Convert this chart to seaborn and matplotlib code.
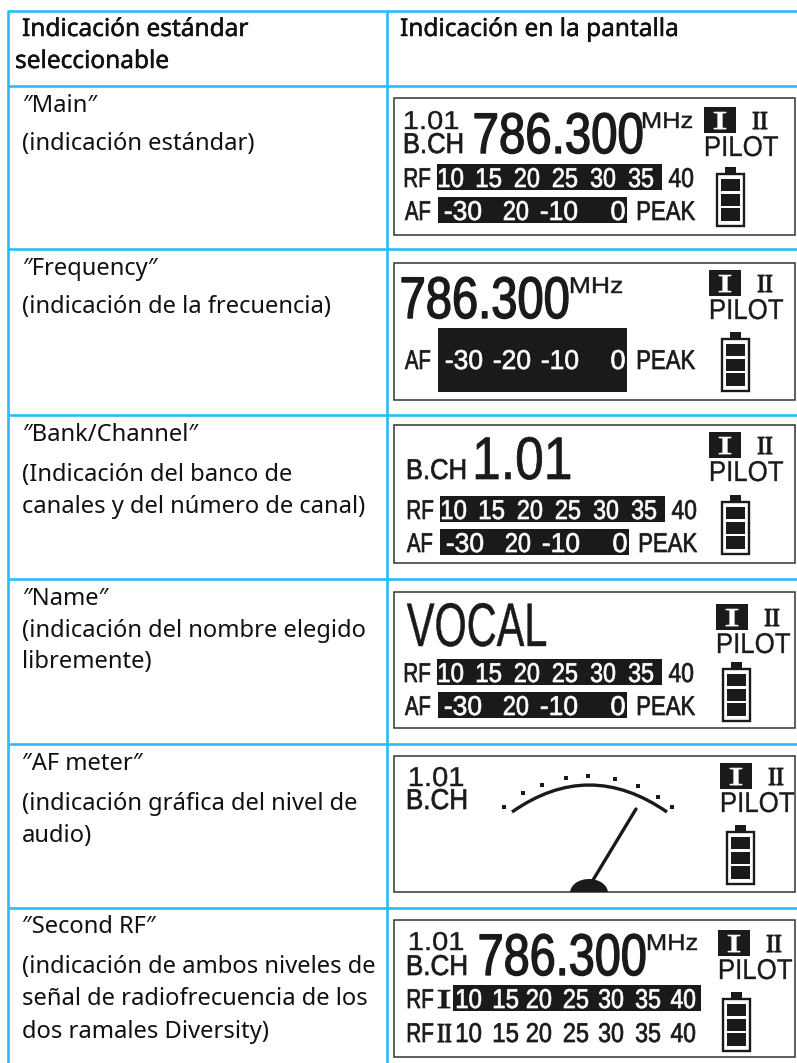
import numpy as np
import matplotlib
matplotlib.use("Agg")
import matplotlib.pyplot as plt
import matplotlib.patheffects as pe
import seaborn as sns
from matplotlib.patches import Rectangle, PathPatch, Ellipse
from matplotlib.path import Path
from matplotlib.transforms import Affine2D

# Textos de la tabla
header_left = ["Indicación estándar", "seleccionable"]
header_right = "Indicación en la pantalla"
row_titles = ["Main", "Frequency", "Bank/Channel", "Name", "AF meter", "Second RF"]
row_desc = [
    ["(indicación estándar)"],
    ["(indicación de la frecuencia)"],
    ["(Indicación del banco de", "canales y del número de canal)"],
    ["(indicación del nombre elegido", "libremente)"],
    ["(indicación gráfica del nivel de", "audio)"],
    ["(indicación de ambos niveles de", "señal de radiofrecuencia de los", "dos ramales Diversity)"],
]

# Valores de las pantallas
frequency = "786.300"
freq_unit = "MHz"
channel = "1.01"
bank_label = "B.CH"
name_value = "VOCAL"
rf_scale = ["10", "15", "20", "25", "30", "35", "40"]
af_scale = ["-30", "20", "-10", "0"]
af_scale_freq = ["-30", "-20", "-10", "0"]
meter_tick_deg = [-40.6, -30, -21, -10, 0, 12, 23, 33, 40.6]

BLUE = "#29bdf8"
INK = "#1a1a1c"
TEXT = "#111111"
LCD = ["Liberation Sans", "DejaVu Sans"]
SERIF = ["Liberation Serif"]
BODY = ["Noto Sans", "DejaVu Sans"]
BODY_SIZE = 17.1

sns.set_theme(style="white")
plt.rcParams["font.family"] = BODY

fig = plt.figure(figsize=(7.97, 10.63), dpi=100)
ax = fig.add_axes([0, 0, 1, 1])


class FitX(pe.AbstractPathEffect):
    # estrecha el texto al ancho de la pantalla LCD (no hay fuente condensada)
    def __init__(self, x0, x1, grow=0.0):
        super().__init__()
        self.x0 = x0
        self.x1 = x1
        self.grow = grow

    def draw_path(self, renderer, gc, tpath, affine, rgbFace=None):
        m = affine.get_matrix().copy()
        ext = tpath.get_extents()
        a = (self.x1 - self.x0) / ext.width
        m[0, 0] = a
        m[0, 2] = self.x0 - a * ext.x0
        gc0 = renderer.new_gc()
        gc0.copy_properties(gc)
        gc0.set_linewidth(self.grow)
        gc0.set_foreground(rgbFace)
        renderer.draw_path(gc0, tpath, Affine2D(m), rgbFace)
        gc0.restore()


def lcd(s, x0, x1, base, h, color=INK, grow=0.5, family=None):
    ax.text((x0 + x1) / 2, base, s, family=family or LCD, fontsize=h * 1.03, color=color,
            ha="center", va="baseline", zorder=5, path_effects=[FitX(x0, x1, grow)])


def small(s, cx, base, color=INK):
    w = {1: 13, 2: 24, 3: 36}[len(s)]
    lcd(s, cx - w / 2, cx + w / 2, base, 19, color=color)


def panel_box(top, bottom):
    box = Rectangle((394.5, top), 401, bottom - top, fc="white", ec="#333333", lw=1.1, zorder=1)
    ax.add_patch(box)
    return box


def selector(x, y):
    # recuadro I, simbolo II y PILOT
    ax.add_patch(Rectangle((x, y), 32, 26, fc=INK, ec="none", zorder=2))
    lcd("I", x + 10, x + 22, y + 22, 18, color="white", grow=0.6, family=SERIF)
    lcd("II", x + 49, x + 63, y + 22, 18, grow=0.8, family=SERIF)
    lcd("PILOT", x + 2, x + 74, y + 49, 20, grow=0.25)


def battery(x, y):
    ax.add_patch(Rectangle((x + 9, y), 11, 7, fc=INK, ec="none", zorder=3))
    ax.add_patch(Rectangle((x + 1, y + 7), 27, 52, fc="white", ec=INK, lw=1.7, zorder=3))
    for i in range(3):
        ax.add_patch(Rectangle((x + 5, y + 12 + i * 14.7), 19, 12.3, fc=INK, ec="none", zorder=4))


def rf_row(x, base):
    # x = inicio de la barra
    lcd("RF", x - 32, x - 7, base, 19)
    ax.add_patch(Rectangle((x, base - 23), 225, 26, fc=INK, ec="none", zorder=2))
    for i, val in enumerate(rf_scale):
        small(val, x + 14 + 38 * i + (2 if i == 6 else 0), base, color="white" if i < 6 else INK)


def af_row(x, base, scale=af_scale, offsets=(25, 78, 121, 180), bar_top=None, bar_bottom=None):
    lcd("AF", x - 33, x - 8, base, 19)
    top = base - 23 if bar_top is None else bar_top
    bottom = base + 3 if bar_bottom is None else bar_bottom
    ax.add_patch(Rectangle((x, top), 189, bottom - top, fc=INK, ec="none", zorder=2))
    for off, val in zip(offsets, scale):
        small(val, x + off, base, color="white")
    lcd("PEAK", x + 200, x + 257, base, 19)


# rejilla de la tabla
row_lines = [11, 86, 249, 415, 579, 744, 908]
for yy in row_lines:
    ax.plot([8, 797], [yy, yy], color=BLUE, lw=1.9, solid_capstyle="butt", zorder=0)
for xx in [8, 387]:
    ax.plot([xx, xx], [10, 1063], color=BLUE, lw=1.9, solid_capstyle="butt", zorder=0)

# columna izquierda
heavy = [pe.withStroke(linewidth=0.35, foreground=TEXT)]
ax.text(22, 36, header_left[0], fontsize=17.6, va="baseline", color=TEXT, path_effects=heavy)
ax.text(15, 68, header_left[1], fontsize=17.6, va="baseline", color=TEXT, path_effects=heavy)
ax.text(400, 36, header_right, fontsize=17.6, va="baseline", color=TEXT, path_effects=heavy)

title_y = [112, 275, 441, 605, 770, 933]
desc_y = [[150], [313], [481, 513], [637, 668], [810, 842], [973, 1005, 1038]]
for title, ty, lines, ys in zip(row_titles, title_y, row_desc, desc_y):
    ax.text(22, ty, f"\u2033{title}\u2033", fontsize=BODY_SIZE, va="baseline", color=TEXT)
    for line, ly in zip(lines, ys):
        ax.text(22, ly, line, fontsize=BODY_SIZE, va="baseline", color=TEXT)

# Main
panel_box(98, 235)
lcd(channel, 405, 458, 129, 18, grow=0.3)
lcd(bank_label, 405, 462, 153, 20)
lcd(frequency, 475, 642, 153, 40, grow=1.0)
lcd(freq_unit, 643, 692, 128, 16, grow=0.3)
selector(704, 107)
rf_row(437, 187)
af_row(438, 220)
battery(716, 167)

# Frequency
panel_box(263, 400)
lcd(frequency, 402, 568, 318, 41, grow=1.0)
lcd(freq_unit, 571, 622, 293, 16, grow=0.3)
selector(709, 270)
af_row(438, 369, scale=af_scale_freq, offsets=(26, 74, 122, 180), bar_top=328, bar_bottom=392)
battery(721, 332)

# Bank/Channel
panel_box(425, 563)
lcd(bank_label, 408, 465, 479, 20)
lcd(channel, 476, 570, 479, 42, grow=0.5)
selector(709, 432)
rf_row(440, 519)
af_row(440, 552)
battery(721, 495)

# Name
panel_box(592, 728)
lcd(name_value, 407, 546, 646, 43, grow=0.3)
selector(716, 604)
rf_row(437, 682)
af_row(438, 715)
battery(722, 662)

# AF meter
box = panel_box(756, 892)
lcd(channel, 410, 463, 786, 19, grow=0.3)
lcd(bank_label, 408, 466, 809, 20)
selector(720, 763)
battery(726, 825)
arc = Path([(512, 812), (589, 758), (667, 812)], [Path.MOVETO, Path.CURVE3, Path.CURVE3])
ax.add_patch(PathPatch(arc, fc="none", ec=INK, lw=2.4, zorder=3))
angles = np.radians(meter_tick_deg)
sns.scatterplot(x=588 + 129 * np.sin(angles), y=905 - 129 * np.cos(angles), marker="s", s=9,
                color=INK, linewidth=0, ax=ax, legend=False, zorder=3)
ax.plot([636, 590], [809, 885], color=INK, lw=2.4, zorder=3)
hump = Ellipse((589, 893), 38, 28, fc=INK, ec="none", zorder=3)
ax.add_patch(hump)
hump.set_clip_path(box)

# Second RF
panel_box(920, 1057)
lcd(channel, 410, 463, 950, 18, grow=0.3)
lcd(bank_label, 408, 466, 975, 20)
lcd(frequency, 480, 645, 975, 41, grow=1.0)
lcd(freq_unit, 648, 697, 950, 16, grow=0.3)
selector(718, 930)
battery(722, 992)
second_x = [469, 506, 539, 576, 611, 648, 683]
lcd("RF", 408, 433, 1008, 19)
lcd("RF", 408, 433, 1042, 19)
lcd("I", 438, 450, 1008, 19, grow=0.6, family=SERIF)
lcd("II", 438, 451, 1042, 19, grow=0.8, family=SERIF)
ax.add_patch(Rectangle((453, 985), 248, 26, fc=INK, ec="none", zorder=2))
for cx, val in zip(second_x, rf_scale):
    small(val, cx, 1008, color="white")
    small(val, cx, 1042)

ax.set_xlim(0, 797)
ax.set_ylim(1063, 0)
ax.axis("off")
sns.despine(ax=ax, left=True, bottom=True)

fig.savefig("out.png", dpi=100, facecolor="white")
